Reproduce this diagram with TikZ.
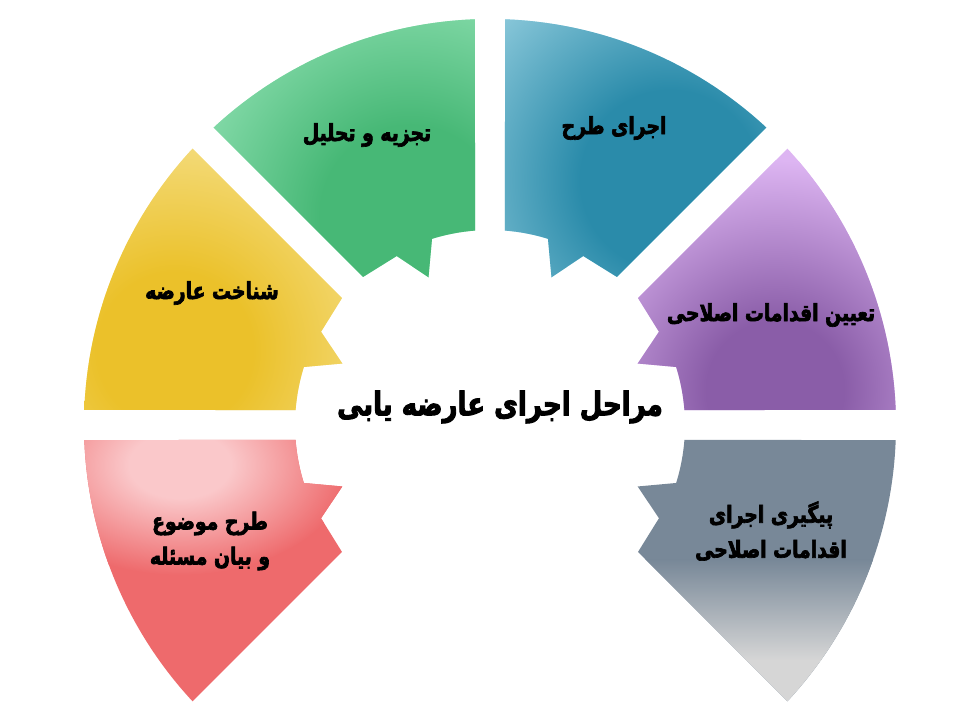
\documentclass[tikz,border=0pt]{standalone}
\usepackage{fontspec}
\TeXXeTstate=1
\newfontfamily\arabicfont[Script=Arabic, FakeStretch=0.8, BoldFeatures={FakeBold=2.8}]{DejaVu Sans}
\definecolor{cD}{HTML}{000000}
\definecolor{cL}{HTML}{FFFFFF}
\definecolor{grnD}{HTML}{47B876}
\definecolor{grnL}{HTML}{A6EDC5}
\definecolor{bluD}{HTML}{2A8BAA}
\definecolor{bluL}{HTML}{B5E3EF}
\definecolor{purD}{HTML}{8A5DA8}
\definecolor{purL}{HTML}{DDB5F2}
\definecolor{yelD}{HTML}{EBC12A}
\definecolor{yelL}{HTML}{F7E59A}
\definecolor{redD}{HTML}{EE6A6C}
\definecolor{redL}{HTML}{FAC8CA}
\definecolor{gryD}{HTML}{788898}
\definecolor{gryL}{HTML}{D6D6D6}
% central 25bp of the shading maps to the path's bounding box
\pgfdeclareradialshading[cD,cL]{blob}{\pgfpoint{0bp}{0bp}}{color(0bp)=(cD); color(7.5bp)=(cD); color(25bp)=(cL); color(50bp)=(cL)}
\tikzset{
  sector path/.style n args={3}{insert path={
    ({#1+#3*2.12}:406) arc[start angle={#1+#3*2.12}, end angle={#2-#3*2.12}, radius=406]
    -- ({#2-#3*4.41}:195) -- ({#1+#3*28.9}:193) -- ({#1+#3*22.6}:160) -- ({#1+#3*17.3}:195)
    arc[start angle={#1+#3*17.3}, end angle={#1+#3*4.41}, radius=195] -- cycle}},
  lbl/.style={font=\arabicfont\bfseries\fontsize{23.5}{35}\selectfont, text=black, align=center, inner sep=0pt},
  ttl/.style={font=\arabicfont\bfseries\fontsize{32.5}{38}\selectfont, text=black, inner sep=0pt}
}
\begin{document}
\begin{tikzpicture}[x=1pt,y=1pt]
\useasboundingbox[fill=white] (-490,-284) rectangle (490,425);
% red
\begin{scope}
  \clip[sector path={180}{225}{1}];
  \fill[redD] (-490,-284) rectangle (0,0);
  \colorlet{cD}{redL}\colorlet{cL}{redD}
  \shade[shading=blob] (-310,-40) ellipse[x radius=170, y radius=110];
\end{scope}
% yellow
\begin{scope}
  \clip[sector path={180}{135}{-1}];
  \fill[yelL] (-490,0) rectangle (0,425);
  \colorlet{cD}{yelD}\colorlet{cL}{yelL}
  \shade[shading=blob] (-315,75) circle[radius=260];
\end{scope}
% green
\begin{scope}
  \clip[sector path={90}{135}{1}];
  \fill[grnL] (-490,0) rectangle (0,425);
  \colorlet{cD}{grnD}\colorlet{cL}{grnL}
  \shade[shading=blob] (-80,210) circle[radius=300];
\end{scope}
% blue
\begin{scope}
  \clip[sector path={90}{45}{-1}];
  \fill[bluL] (0,0) rectangle (490,425);
  \colorlet{cD}{bluD}\colorlet{cL}{bluL}
  \shade[shading=blob] (180,245) circle[radius=300];
\end{scope}
% purple
\begin{scope}
  \clip[sector path={0}{45}{1}];
  \fill[purL] (0,0) rectangle (490,425);
  \colorlet{cD}{purD}\colorlet{cL}{purL}
  \shade[shading=blob] (285,35) circle[radius=230];
\end{scope}
% gray
\begin{scope}
  \clip[sector path={0}{-45}{-1}];
  \fill[gryD] (0,-284) rectangle (490,0);
  \fill[gryL] (0,-235) rectangle (490,-290);
  \shade[top color=gryD, bottom color=gryL] (0,-135) rectangle (490,-235);
\end{scope}
% labels
\node[lbl] (tg) at (-123,290) {\beginR تجزیه و تحلیل\endR};
\node[lbl] (tb) at (124,297) {\beginR اجرای طرح\endR};
\node[lbl] (ty) at (-278,132) {\beginR شناخت عارضه\endR};
\node[lbl] (tp) at (281,110) {\beginR تعیین اقدامات اصلاحی\endR};
\node[lbl] (tr) at (-280,-116) {\beginR طرح موضوع\endR\\\beginR و بیان مسئله\endR};
\node[lbl] (tq) at (281,-106) {\beginR پیگیری اجرای\endR\\\beginR اقدامات اصلاحی\endR};
\node[ttl] (tt) at (10,18) {\beginR مراحل اجرای عارضه یابی\endR};
\end{tikzpicture}
\end{document}
